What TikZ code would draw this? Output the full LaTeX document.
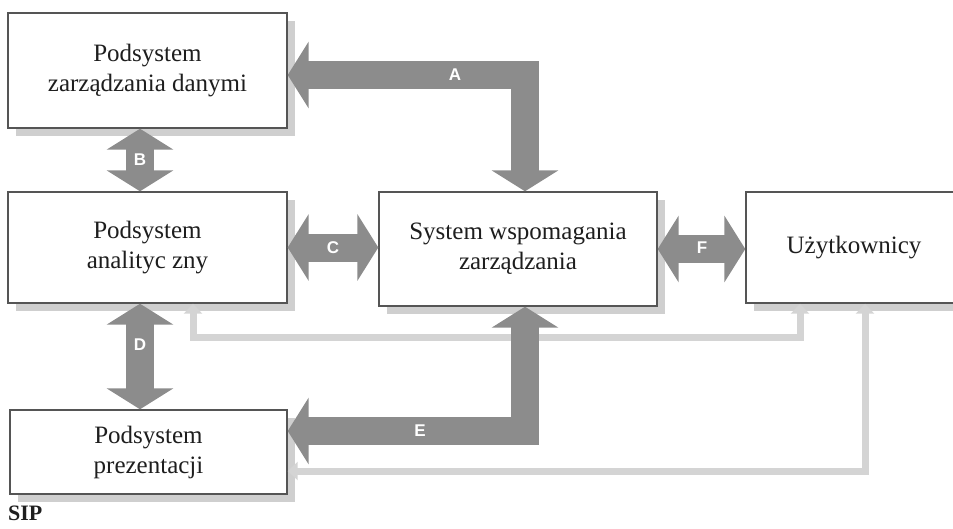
\documentclass[tikz,border=0pt]{standalone}
\usepackage{fontspec}
\setmainfont{Liberation Serif}
\newfontfamily\lettfont{Liberation Sans}
\usetikzlibrary{arrows.meta,shadows}
\definecolor{arrowgray}{HTML}{8C8C8C}
\definecolor{lightflow}{HTML}{D4D4D4}
\definecolor{boxline}{HTML}{555555}
\definecolor{shadowgray}{HTML}{CFCFCF}
\definecolor{txtgray}{HTML}{1E1E1E}

\begin{document}
\begin{tikzpicture}[
  x=1pt, y=-1pt,
  every node/.style={inner sep=0pt},
  subsys/.style={rectangle, draw=boxline, line width=1.4pt, fill=white,
    align=center, text=txtgray, font=\fontsize{25}{30}\selectfont,
    drop shadow={shadow xshift=8pt, shadow yshift=-8pt, fill=shadowgray, opacity=1}},
  flow/.style={draw=arrowgray, line width=28pt, line join=miter,
    {Triangle[length=21pt,width=66pt]}-{Triangle[length=21pt,width=66pt]}},
  back/.style={draw=lightflow, line width=7pt, line join=miter,
    {Triangle[length=10pt,width=18pt]}-{Triangle[length=10pt,width=18pt]}},
  letter/.style={text=white, font=\lettfont\bfseries\fontsize{17}{17}\selectfont}
]
  \useasboundingbox (0,0) rectangle (953,528);
  \clip (0,0) rectangle (953,528);

  \node[subsys, minimum width=279pt, minimum height=115pt] (dane) at (147.5,70.5)
    {Podsystem\\zarządzania danymi};
  \node[subsys, minimum width=279pt, minimum height=111pt] (anal) at (147.5,247.5)
    {Podsystem\\analityc zny};
  \node[subsys, minimum width=278pt, minimum height=114pt] (swz) at (518,249)
    {System wspomagania\\zarządzania};
  \node[subsys, minimum width=216pt, minimum height=111pt] (uzyt) at (854,247.5)
    {Użytkownicy};
  \node[subsys, minimum width=277pt, minimum height=84pt] (prez) at (148.5,452)
    {Podsystem\\prezentacji};

  % light return flows from the users
  \coordinate (k1) at (193,337);
  \coordinate (k2) at (800,337);
  \coordinate (k3) at (865,471);
  \draw[back] (anal.south -| k1) -- (k1) -- (k2) -- (uzyt.south -| k2);
  \draw[back] (uzyt.south -| k3) -- (k3) -- (k3 -| prez.east);

  % main flows
  \coordinate (ka) at (525,75);
  \coordinate (ke) at (525,431);
  \draw[flow] (ka -| dane.east) -- (ka) -- (swz.north -| ka);
  \draw[flow] ([xshift=-7.5pt]dane.south) -- ([xshift=-7.5pt]anal.north);
  \draw[flow] (anal.east) -- (anal.east -| swz.west);
  \draw[flow] ([xshift=-7.5pt]anal.south) -- ([xshift=-7.5pt]anal.south |- prez.north);
  \draw[flow] (swz.south -| ke) -- (ke) -- (ke -| prez.east);
  \draw[flow] (swz.east) -- (swz.east -| uzyt.west);

  \node[letter] (la) at (455,75)  {A};
  \node[letter] (lb) at (140,160) {B};
  \node[letter] (lc) at (333,248) {C};
  \node[letter] (ld) at (140,345) {D};
  \node[letter] (le) at (420,431) {E};
  \node[letter] (lf) at (702,248) {F};

  \node[anchor=west, text=txtgray, font=\bfseries\fontsize{22}{22}\selectfont] (sip) at (8,513) {SIP};
\end{tikzpicture}
\end{document}
